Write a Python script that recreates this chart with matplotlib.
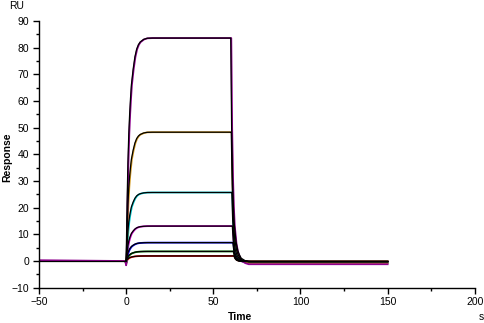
import numpy as np
import matplotlib
matplotlib.use("Agg")
import matplotlib.pyplot as plt

plt.rcParams['font.family'] = ['Liberation Sans', 'DejaVu Sans']

# plateau responses (RU) for each concentration
plateaus = [83.6, 48.3, 25.7, 13.1, 6.9, 3.6, 1.9]
data_colors = ['#8E008E', '#D49A20', '#00C8D0', '#C800C8', '#0000F0', '#007A00', '#F00000']
tail_levels = [-1.2, -0.8, -0.6, -0.5, -0.3, -0.2, -0.1]
diss_delay = [0.0, 0.3, 0.6, 0.9, 1.2, 1.5, 1.8]

# normalised association shape (t in s from injection)
assoc_t = [0, 0.5, 1, 1.5, 2, 2.5, 3, 4, 5, 6, 7, 8, 10, 12, 15, 20, 40, 60]
assoc_f = [0, 0.25, 0.44, 0.57, 0.66, 0.73, 0.79, 0.86, 0.915, 0.95, 0.97, 0.982, 0.994, 0.999, 1, 1, 1, 1]
# normalised dissociation shape (t in s after end of injection)
diss_t = [0, 0.5, 1, 1.5, 2, 3, 4, 5, 6, 8, 10, 20, 40]
diss_f = [1, 0.6, 0.38, 0.25, 0.17, 0.09, 0.05, 0.03, 0.015, 0.005, 0, 0, 0]

inj_end = 60.0
run_end = 150.0
baseline_t = [-50, -16, 0]
baseline_y = [0.0, 0.0, 0.0]

x_ticks = [-50, 0, 50, 100, 150, 200]
y_ticks = [-10, 0, 10, 20, 30, 40, 50, 60, 70, 80, 90]

fig = plt.figure(figsize=(4.85, 3.23), dpi=100)
ax = fig.add_axes([0.0804, 0.1093, 0.979 - 0.0804, 0.935 - 0.1093])

# experimental data (coloured), drawn so that the top curve ends up on top
for i in reversed(range(len(plateaus))):
    p, c, tl, dd = plateaus[i], data_colors[i], tail_levels[i], diss_delay[i]
    t_a = [ta + 0.3 for ta in assoc_t]
    y_a = [p * f for f in assoc_f]
    t_d = [inj_end + 0.3 + dd + td for td in diss_t] + [run_end]
    y_d = [p * f + tl * (1 - f) for f in diss_f] + [tl]
    t_all = [-50, -0.5, 0, 0.15] + t_a + t_d
    y_all = [0.3 * (i == 0), 0, -1.6 + 0.2 * i, -0.5] + y_a + y_d
    ax.plot(t_all, y_all, color=c, lw=1.3, solid_joinstyle='round')

# fitted curves (black)
for i, (p, dd) in enumerate(zip(plateaus, diss_delay)):
    t_a = list(assoc_t)
    y_a = [p * f for f in assoc_f]
    t_d = [inj_end + dd + td for td in diss_t] + [run_end]
    y_d = [p * f - 0.2 * (1 - f) for f in diss_f] + [-0.2]
    ax.plot(t_a + t_d, y_a + y_d, color='black', lw=0.9)

ax.plot(baseline_t, baseline_y, color='black', lw=0.9)

ax.set_xlim(-50, 200)
ax.set_ylim(-10, 90)
ax.set_xticks(x_ticks)
ax.set_yticks(y_ticks)
ax.set_xticks(np.arange(-25, 200, 50), minor=True)
ax.set_yticks(np.arange(-5, 90, 10), minor=True)
for s in ['top', 'right']:
    ax.spines[s].set_visible(False)
for s in ['left', 'bottom']:
    ax.spines[s].set_linewidth(1.0)
ax.tick_params(which='major', direction='out', length=4, width=1, labelsize=7.5, pad=3)
ax.tick_params(which='minor', direction='out', length=2.5, width=1)

fig.text(17 / 485, 1 - 6 / 323, 'RU', fontsize=7.5, ha='center', va='center')
fig.text(481 / 485, 1 - 317 / 323, 's', fontsize=7.5, ha='center', va='center')
fig.text(240 / 485, 1 - 317 / 323, 'Time', fontsize=7.5, fontweight='bold', ha='center', va='center')
fig.text(7 / 485, 1 - 157 / 323, 'Response', fontsize=7.5, fontweight='bold', rotation=90, ha='center', va='center')

fig.savefig('out.png', dpi=100)
